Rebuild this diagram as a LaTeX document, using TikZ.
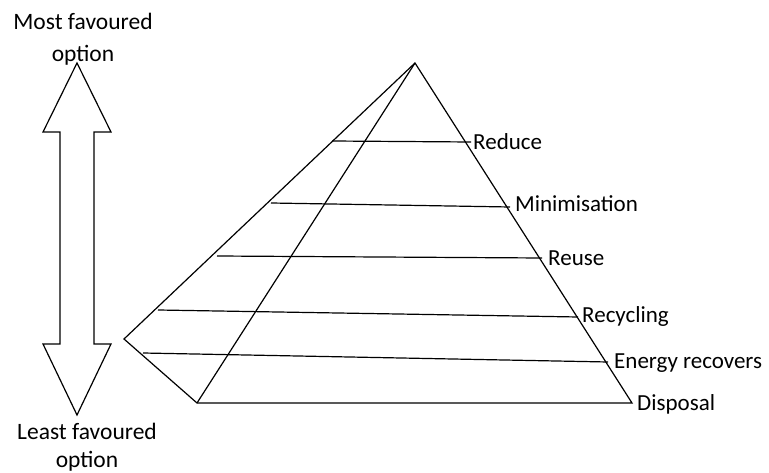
\documentclass[tikz,border=0pt]{standalone}
\usepackage{fontspec}
\setmainfont{Carlito}
\begin{document}
\begin{tikzpicture}[x=1pt,y=-1pt,
  edge/.style={line width=1.2pt,line join=miter},
  lbl/.style={font=\fontsize{23}{25}\selectfont,inner sep=0pt,anchor=base west},
  side/.style={font=\fontsize{23.5}{25}\selectfont,inner sep=0pt,anchor=base}]
\useasboundingbox (0,0) rectangle (769,473);
% pyramid corners
\coordinate (apex) at (415,63);
\coordinate (lc) at (124,339);
\coordinate (fb) at (197,403);
\coordinate (rb) at (632,403);
\draw[edge] (apex) -- (lc) -- (fb) -- (rb) -- cycle;
\draw[edge] (apex) -- (fb);
% layer lines
\coordinate (r1a) at (332,141); \coordinate (r1b) at (471,142);
\coordinate (r2a) at (271,203); \coordinate (r2b) at (510,207);
\coordinate (r3a) at (217,256); \coordinate (r3b) at (542,258);
\coordinate (r4a) at (158,310); \coordinate (r4b) at (578,317);
\coordinate (r5a) at (143,353); \coordinate (r5b) at (608,362);
\draw[edge] (r1a) -- (r1b);
\draw[edge] (r2a) -- (r2b);
\draw[edge] (r3a) -- (r3b);
\draw[edge] (r4a) -- (r4b);
\draw[edge] (r5a) -- (r5b);
% labels
\node[lbl] (t1) at (473,150) {Reduce};
\node[lbl] (t2) at (515,212) {Minimisation};
\node[lbl] (t3) at (548,266) {Reuse};
\node[lbl] (t4) at (582,323) {Recycling};
\node[lbl] (t5) at (614,368) {Energy recovers};
\node[lbl] (t6) at (637,410) {Disposal};
% double arrow
\draw[edge] (77,63) -- (111,132) -- (94,132) -- (94,344) -- (111,344) -- (77,415)
  -- (43,344) -- (60,344) -- (60,132) -- (43,132) -- cycle;
\node[side] (m1) at (83,30) {Most favoured};
\node[side] (m2) at (83,62) {option};
\node[side] (l1) at (87,439) {Least favoured};
\node[side] (l2) at (87,467) {option};
\end{tikzpicture}
\end{document}
